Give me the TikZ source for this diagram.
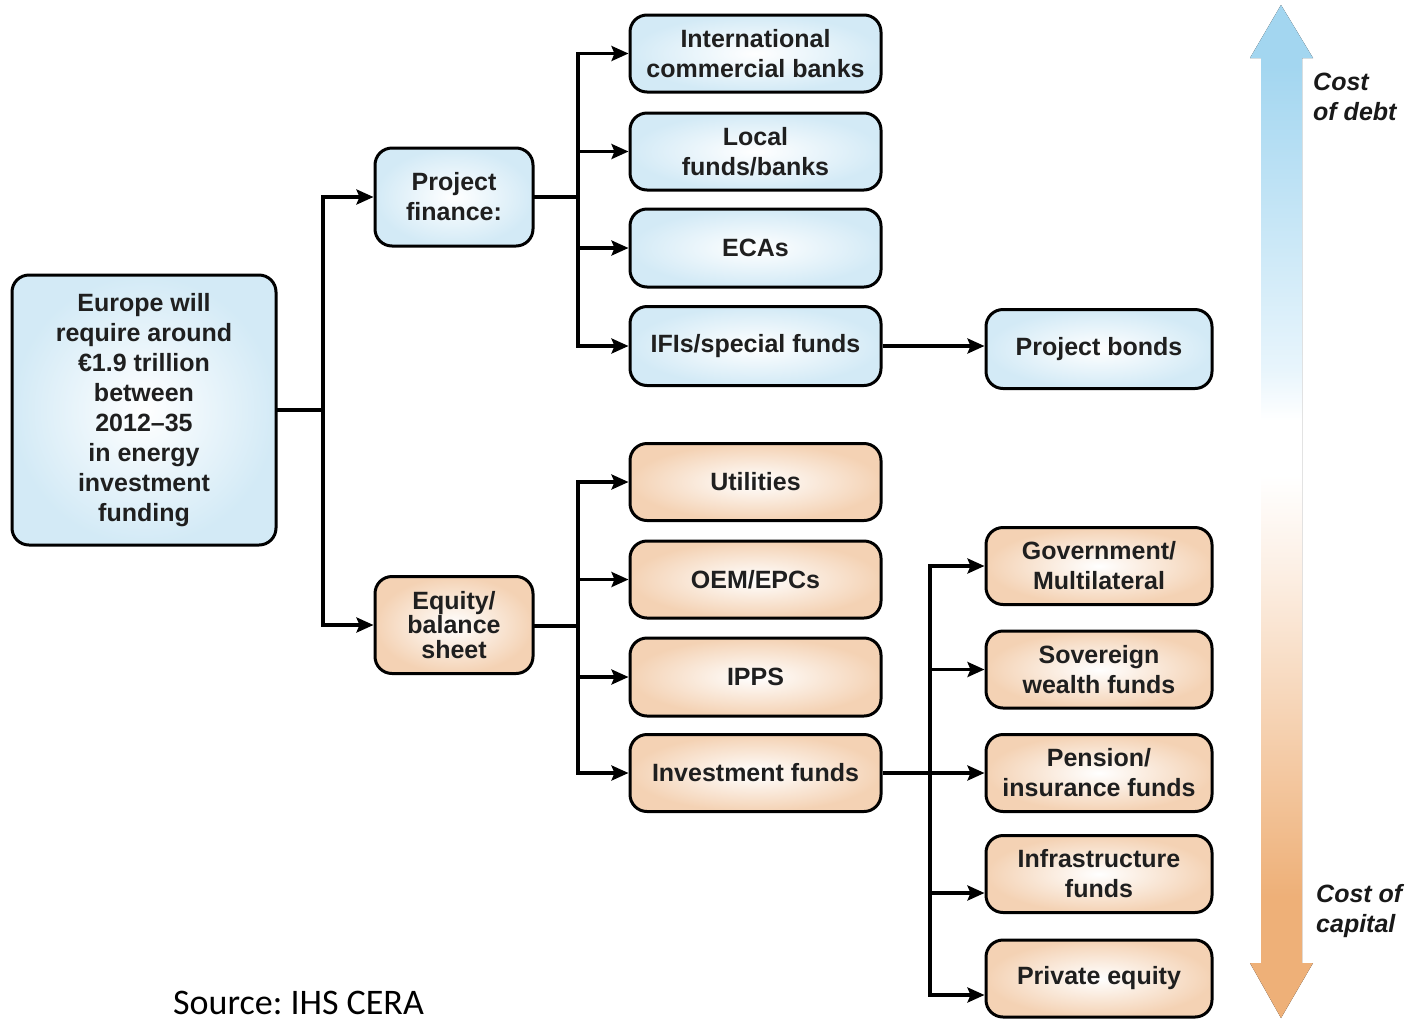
\documentclass[tikz,border=0pt]{standalone}
\usepackage{fontspec}
\setmainfont{Liberation Sans}
\newfontfamily\srcfont{Carlito}
\usetikzlibrary{arrows.meta}
\definecolor{bxblue}{HTML}{D3EAF6}
\definecolor{bxorange}{HTML}{F4D2B4}
\definecolor{arblue}{HTML}{A3D6F0}
\definecolor{arorange}{HTML}{EEB078}
\definecolor{arbluelt}{HTML}{E8F5FC}
\definecolor{arorangelt}{HTML}{FCEFE4}
\pgfdeclareverticalshading{costshade}{100bp}{color(0bp)=(arorange); color(25bp)=(arorange); color(31bp)=(arorange); color(47bp)=(arorangelt); color(51.8bp)=(white); color(54.5bp)=(white); color(57bp)=(arbluelt); color(72bp)=(arblue); color(100bp)=(arblue)}
\tikzset{
  bx/.style={draw=black, line width=3pt, rounded corners=17pt, align=center,
    font=\fontsize{25}{30}\selectfont\bfseries, text=black!88, inner sep=0pt},
  bbox/.style={bx, inner color=white, outer color=bxblue},
  obox/.style={bx, inner color=white, outer color=bxorange},
  conn/.style={line width=3.2pt, line cap=rect},
  arr/.style={line width=3.2pt, -{Stealth[length=17pt,width=15pt,inset=3pt]}},
  side/.style={font=\fontsize{25}{30}\selectfont\bfseries\itshape, align=left, inner sep=0pt, text=black!90},
}
\begin{document}
\begin{tikzpicture}[x=1pt,y=-1pt]
\useasboundingbox (0,0) rectangle (1408,1021);

% big cost arrow
\fill[shading=costshade] (1281,5) -- (1313,58) -- (1302,58) -- (1302,963) -- (1313,963) -- (1281,1018)
  -- (1250,963) -- (1261,963) -- (1261,58) -- (1250,58) -- cycle;
\node[side, anchor=north west] (cd) at (1313,73) {Cost\\of debt};
\node[side, anchor=north west] (cc) at (1316,884) {Cost of\\capital};

% nodes
\node[bbox, minimum width=264pt, minimum height=270pt] (eu) at (144,410)
  {Europe will\\require around\\€1.9 trillion\\between\\2012–35\\in energy\\investment\\funding};
\node[bbox, minimum width=158pt, minimum height=98pt] (pf) at (454,197) {Project\\finance:};
\node[obox, minimum width=158pt, minimum height=97pt, font=\fontsize{25}{24.5}\selectfont\bfseries] (eq) at (454,625) {Equity/\\balance\\sheet};

\node[bbox, minimum width=251pt, minimum height=77pt] (ic) at (755.5,53.5) {International\\commercial banks};
\node[bbox, minimum width=251pt, minimum height=77pt] (lf) at (755.5,151.5) {Local\\funds/banks};
\node[bbox, minimum width=251pt, minimum height=78pt] (eca) at (755.5,248) {ECAs};
\node[bbox, minimum width=251pt, minimum height=79pt] (ifi) at (755.5,346) {IFIs/special funds};
\node[bbox, minimum width=226pt, minimum height=79pt] (pb) at (1099,349) {Project bonds};

\node[obox, minimum width=251pt, minimum height=77pt] (ut) at (755.5,482) {Utilities};
\node[obox, minimum width=251pt, minimum height=77pt] (oem) at (755.5,579.5) {OEM/EPCs};
\node[obox, minimum width=251pt, minimum height=78pt] (ipp) at (755.5,677) {IPPS};
\node[obox, minimum width=251pt, minimum height=77pt] (inv) at (755.5,773) {Investment funds};

\node[obox, minimum width=226pt, minimum height=77pt] (gov) at (1099,566) {Government/\\Multilateral};
\node[obox, minimum width=226pt, minimum height=77pt] (sov) at (1099,669.5) {Sovereign\\wealth funds};
\node[obox, minimum width=226pt, minimum height=77pt] (pen) at (1099,773) {Pension/\\insurance funds};
\node[obox, minimum width=226pt, minimum height=77pt] (inf) at (1099,874) {Infrastructure\\funds};
\node[obox, minimum width=226pt, minimum height=77pt] (pe) at (1099,978.5) {Private equity};

% connectors
\coordinate (ja) at (323,410);
\coordinate (jb) at (578,197);
\coordinate (jc) at (578,626);
\coordinate (jd) at (930,773);

\draw[conn] (eu.east |- ja) -- (ja);
\draw[conn] (ja |- pf.west) -- (ja |- eq.west);
\draw[arr] (ja |- pf.west) -- (pf.west);
\draw[arr] (ja |- eq.west) -- (eq.west);

\draw[conn] (pf.east) -- (pf.east -| jb);
\draw[conn] (jb |- ic.west) -- (jb |- ifi.west);
\draw[arr] (jb |- ic.west) -- (ic.west);
\draw[arr] (jb |- lf.west) -- (lf.west);
\draw[arr] (jb |- eca.west) -- (eca.west);
\draw[arr] (jb |- ifi.west) -- (ifi.west);
\draw[arr] (ifi.east) -- (ifi.east -| pb.west);

\draw[conn] (eq.east |- jc) -- (jc);
\draw[conn] (jc |- ut.west) -- (jc |- inv.west);
\draw[arr] (jc |- ut.west) -- (ut.west);
\draw[arr] (jc |- oem.west) -- (oem.west);
\draw[arr] (jc |- ipp.west) -- (ipp.west);
\draw[arr] (jc |- inv.west) -- (inv.west);

\draw[conn] (jd |- gov.west) -- (jd |- 0,995);
\draw[arr] (inv.east) -- (pen.west);
\draw[arr] (jd |- gov.west) -- (gov.west);
\draw[arr] (jd |- sov.west) -- (sov.west);
\draw[arr] (jd |- 0,893) -- (inf.west |- 0,893);
\draw[arr] (jd |- 0,995) -- (pe.west |- 0,995);

\node[anchor=base west, inner sep=0pt, font=\srcfont\fontsize{36}{40}\selectfont\frenchspacing] (src) at (173,1014) {Source: IHS CERA};
\end{tikzpicture}
\end{document}
